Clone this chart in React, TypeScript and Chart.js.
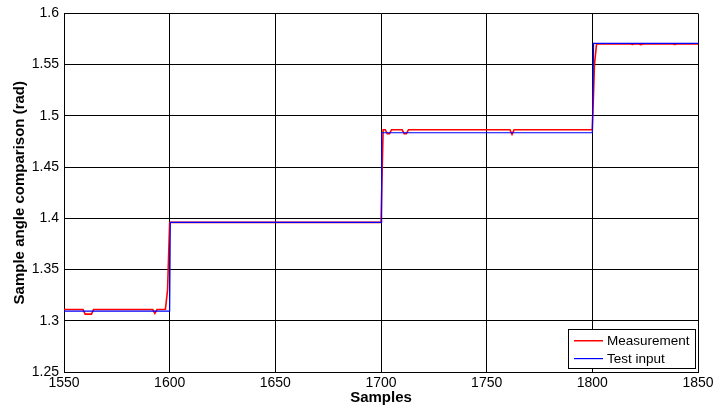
import React, { useEffect, useRef } from "react";
import { Chart, registerables } from "chart.js";

Chart.register(...registerables);

// Measurement (red) — sample index and angle (rad)
const measX = [1550, 1559, 1560, 1563, 1564, 1592, 1593, 1594, 1598, 1599, 1600, 1700, 1701, 1702, 1703, 1704, 1705, 1710, 1711, 1712, 1713, 1761, 1762, 1763, 1800, 1801, 1802, 1818, 1819, 1820, 1822, 1823, 1824, 1838, 1839, 1840, 1850];
const measY = [1.311, 1.311, 1.3065, 1.3065, 1.311, 1.311, 1.3072, 1.311, 1.3112, 1.33, 1.396, 1.396, 1.4865, 1.4865, 1.4825, 1.4825, 1.4865, 1.4865, 1.4825, 1.4825, 1.4865, 1.4865, 1.482, 1.4865, 1.4865, 1.55, 1.5702, 1.5702, 1.5697, 1.5702, 1.5702, 1.5696, 1.5702, 1.5702, 1.5697, 1.5702, 1.5702];

// Test input (blue)
const testX = [1550, 1600, 1600.3, 1700, 1700.3, 1800, 1800.6, 1850];
const testY = [1.3095, 1.3095, 1.396, 1.396, 1.4835, 1.4835, 1.5708, 1.5708];

const xTicks = [1550, 1600, 1650, 1700, 1750, 1800, 1850];
const yTicks = [1.25, 1.3, 1.35, 1.4, 1.45, 1.5, 1.55, 1.6];

const seriesNames = ["Measurement", "Test input"];
const seriesColors = ["#ff0000", "#0000ff"];

const FONT = "'Liberation Sans', Arial, sans-serif";

const legendPlugin = {
  id: "insideLegend",
  afterDraw(chart: any) {
    const { ctx, chartArea } = chart;
    const w = 127;
    const h = 39;
    const x0 = Math.round(chartArea.right) - 130;
    const y0 = Math.round(chartArea.bottom) - 43;
    ctx.save();
    ctx.fillStyle = "#ffffff";
    ctx.fillRect(x0, y0, w, h);
    ctx.strokeStyle = "#000";
    ctx.lineWidth = 1;
    ctx.strokeRect(x0 + 0.5, y0 + 0.5, w, h);
    ctx.font = `13.5px ${FONT}`;
    ctx.textBaseline = "middle";
    ctx.textAlign = "left";
    seriesNames.forEach((name, i) => {
      const yy = y0 + 11 + i * 18;
      ctx.fillStyle = seriesColors[i];
      ctx.fillRect(x0 + 6, yy, 29, i === 0 ? 1.5 : 1.2);
      ctx.fillStyle = "#000";
      ctx.fillText(name, x0 + 39, yy + 1);
    });
    ctx.restore();
  },
};

export default function App() {
  const ref = useRef<HTMLCanvasElement>(null);
  useEffect(() => {
    if (!ref.current) return;
    const chart = new Chart(ref.current, {
      type: "line",
      data: {
        datasets: [
          {
            label: seriesNames[0],
            data: measX.map((x, i) => ({ x, y: measY[i] })),
            borderColor: seriesColors[0],
            borderWidth: 1.6,
            pointRadius: 0,
            tension: 0,
            order: 2,
          },
          {
            label: seriesNames[1],
            data: testX.map((x, i) => ({ x, y: testY[i] })),
            borderColor: seriesColors[1],
            borderWidth: 1.2,
            pointRadius: 0,
            tension: 0,
            order: 1,
          },
        ],
      },
      options: {
        animation: false,
        responsive: false,
        maintainAspectRatio: false,
        layout: { padding: { top: 11, right: 30, left: 0, bottom: 0 } },
        plugins: { legend: { display: false }, tooltip: { enabled: false } },
        scales: {
          x: {
            type: "linear",
            min: 1550,
            max: 1850,
            afterBuildTicks: (s: any) => {
              s.ticks = xTicks.map((v) => ({ value: v }));
            },
            afterFit: (s: any) => {
              s.height = 36;
            },
            grid: { color: "#000", lineWidth: 1, drawTicks: false },
            border: { color: "#000", width: 1 },
            ticks: {
              color: "#000",
              font: { family: FONT, size: 14 },
              padding: 3,
              maxRotation: 0,
              callback: (v: any) => String(v),
            },
            title: {
              display: true,
              text: "Samples",
              color: "#000",
              font: { family: FONT, size: 15, weight: "bold" },
              padding: { top: 0, bottom: 1 },
            },
          },
          y: {
            type: "linear",
            min: 1.25,
            max: 1.6,
            afterBuildTicks: (s: any) => {
              s.ticks = yTicks.map((v) => ({ value: v }));
            },
            afterFit: (s: any) => {
              s.width = 64;
            },
            grid: { color: "#000", lineWidth: 1, drawTicks: false },
            border: { color: "#000", width: 1 },
            ticks: {
              color: "#000",
              font: { family: FONT, size: 14 },
              padding: 5,
              callback: (v: any) => String(v),
            },
            title: {
              display: true,
              text: "Sample angle comparison (rad)",
              color: "#000",
              font: { family: FONT, size: 15, weight: "bold" },
              padding: { top: 11, bottom: 0 },
            },
          },
        },
      },
      plugins: [legendPlugin],
    });
    return () => chart.destroy();
  }, []);
  return (
    <div style={{ position: "fixed", left: 0, top: 0, width: 728, height: 408, background: "#fff" }}>
      <canvas ref={ref} width={728} height={408} style={{ width: 728, height: 408 }} />
    </div>
  );
}
